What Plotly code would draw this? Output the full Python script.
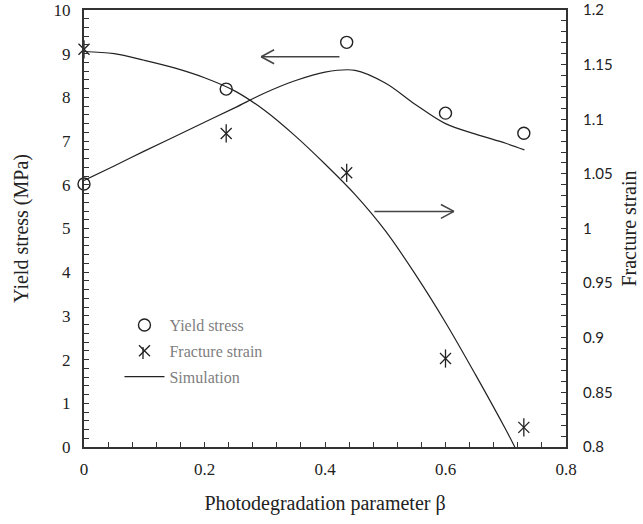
import plotly.graph_objects as go

# ---- data ----
beta_pts = [0.0, 0.236, 0.436, 0.600, 0.730]
yield_stress = [6.02, 8.19, 9.26, 7.64, 7.18]          # MPa, left axis
fracture_strain = [1.164, 1.087, 1.051, 0.881, 0.818]   # right axis

sim_yield_x = [0.0, 0.05, 0.10, 0.15, 0.20, 0.25, 0.30, 0.35, 0.40, 0.45, 0.50,
               0.55, 0.60, 0.65, 0.70, 0.731]
sim_yield_y = [6.10, 6.43, 6.77, 7.10, 7.43, 7.76, 8.10, 8.38, 8.58, 8.62, 8.33,
               7.84, 7.40, 7.16, 6.95, 6.80]

sim_frac_x = [0.0, 0.05, 0.10, 0.15, 0.20, 0.25, 0.30, 0.35, 0.40, 0.45, 0.50,
              0.55, 0.60, 0.65, 0.70, 0.715]
sim_frac_y = [1.162, 1.160, 1.154, 1.147, 1.138, 1.126, 1.108, 1.085, 1.059, 1.031, 0.998,
              0.958, 0.914, 0.866, 0.816, 0.800]

x_ticks = [0, 0.2, 0.4, 0.6, 0.8]

SERIF = "Liberation Serif"
SANS = "Lato"
INK = "#222222"
AX = "#333333"

fig = go.Figure()

fig.add_trace(go.Scatter(
    x=beta_pts, y=yield_stress, mode="markers", name="Yield stress", legendgroup="a",
    marker=dict(symbol="circle-open", size=12, color=INK, line=dict(width=1.4, color=INK)),
    yaxis="y", cliponaxis=False))
fig.add_trace(go.Scatter(
    x=beta_pts, y=fracture_strain, mode="markers", name="Fracture strain", legendgroup="b",
    marker=dict(symbol="x-thin-open", size=11, color=INK, line=dict(width=1.3, color=INK)),
    yaxis="y2", cliponaxis=False))
fig.add_trace(go.Scatter(
    x=beta_pts, y=fracture_strain, mode="markers", name="Fracture strain", legendgroup="b",
    showlegend=False,
    marker=dict(symbol="line-ns-open", size=13, color=INK, line=dict(width=1.3, color=INK)),
    yaxis="y2", cliponaxis=False))
fig.add_trace(go.Scatter(
    x=sim_yield_x, y=sim_yield_y, mode="lines", line=dict(color=INK, width=1.2, shape="spline"),
    name="Simulation", legendgroup="c", showlegend=True, yaxis="y"))
fig.add_trace(go.Scatter(
    x=sim_frac_x, y=sim_frac_y, mode="lines", line=dict(color=INK, width=1.2, shape="spline"),
    name="Simulation", legendgroup="c", showlegend=False, yaxis="y2"))

# ---- arrows (open V heads) ----
arrows = [
    dict(x0=0.424, x1=0.294, y=8.93),
    dict(x0=0.482, x1=0.614, y=5.39),
]
shapes = []
for a in arrows:
    d = 1 if a["x1"] > a["x0"] else -1
    shapes.append(dict(type="line", xref="x", yref="y", x0=a["x0"], x1=a["x1"], y0=a["y"], y1=a["y"],
                       line=dict(color="#444444", width=1.5)))
    for s in (1, -1):
        shapes.append(dict(type="line", xref="x", yref="y", x0=a["x1"], y0=a["y"],
                           x1=a["x1"] - d * 0.0216, y1=a["y"] + s * 0.16,
                           line=dict(color="#444444", width=1.5)))

# vertical stroke completing the 6-armed star glyph in the legend
shapes.append(dict(type="line", xref="paper", yref="paper", x0=0.1224, x1=0.1224,
                   y0=0.2151 - 0.0137, y1=0.2151 + 0.0137, line=dict(color=INK, width=1.3)))

fig.update_layout(
    width=643, height=524,
    margin=dict(l=84, r=77, t=10, b=77, autoexpand=False),
    paper_bgcolor="white", plot_bgcolor="white",
    shapes=shapes,
    showlegend=True,
    legend=dict(x=0.0736, y=0.318, xanchor="left", yanchor="top", bgcolor="rgba(0,0,0,0)",
                font=dict(family=SERIF, size=16, color="#808080"),
                traceorder="grouped", tracegroupgap=2, itemwidth=40),
    xaxis=dict(range=[0, 0.8], tickvals=x_ticks, ticktext=[f"{v:g}" for v in x_ticks],
               ticks="inside", ticklen=5, tickwidth=1.2, tickcolor=AX, automargin=False,
               minor=dict(dtick=0.04, ticks="inside", ticklen=5, tickcolor=AX, tickwidth=1.2),
               showline=True, linecolor=AX, linewidth=2, mirror=True, showgrid=False, zeroline=False,
               tickfont=dict(family=SERIF, size=17, color=INK), ticklabelstandoff=6,
               title=dict(text="Photodegradation parameter β", font=dict(family=SERIF, size=20, color=INK),
                          standoff=18)),
    yaxis=dict(range=[0, 10], dtick=1, ticks="inside", ticklen=5, tickwidth=1.2, tickcolor=AX,
               automargin=False,
               minor=dict(dtick=0.2, ticks="inside", ticklen=5, tickcolor=AX, tickwidth=1.2),
               showline=True, linecolor=AX, linewidth=2, showgrid=False, zeroline=False,
               tickfont=dict(family=SERIF, size=17, color=INK), ticklabelstandoff=8,
               title=dict(text="Yield stress (MPa)", font=dict(family=SERIF, size=20, color=INK),
                          standoff=20)),
    yaxis2=dict(range=[0.8, 1.2], dtick=0.05, overlaying="y", side="right", automargin=False,
                ticks="inside", ticklen=5, tickwidth=1.2, tickcolor=AX,
                minor=dict(dtick=0.01, ticks="inside", ticklen=5, tickcolor=AX, tickwidth=1.2),
                showline=True, linecolor=AX, linewidth=2, showgrid=False, zeroline=False,
                tickfont=dict(family=SANS, size=15, color=INK), ticklabelstandoff=12,
                title=dict(text="Fracture strain", font=dict(family=SERIF, size=20, color=INK),
                           standoff=10)),
)

fig.write_html("out.html", config={"displayModeBar": False},
               post_script="document.body.style.margin='0';")
